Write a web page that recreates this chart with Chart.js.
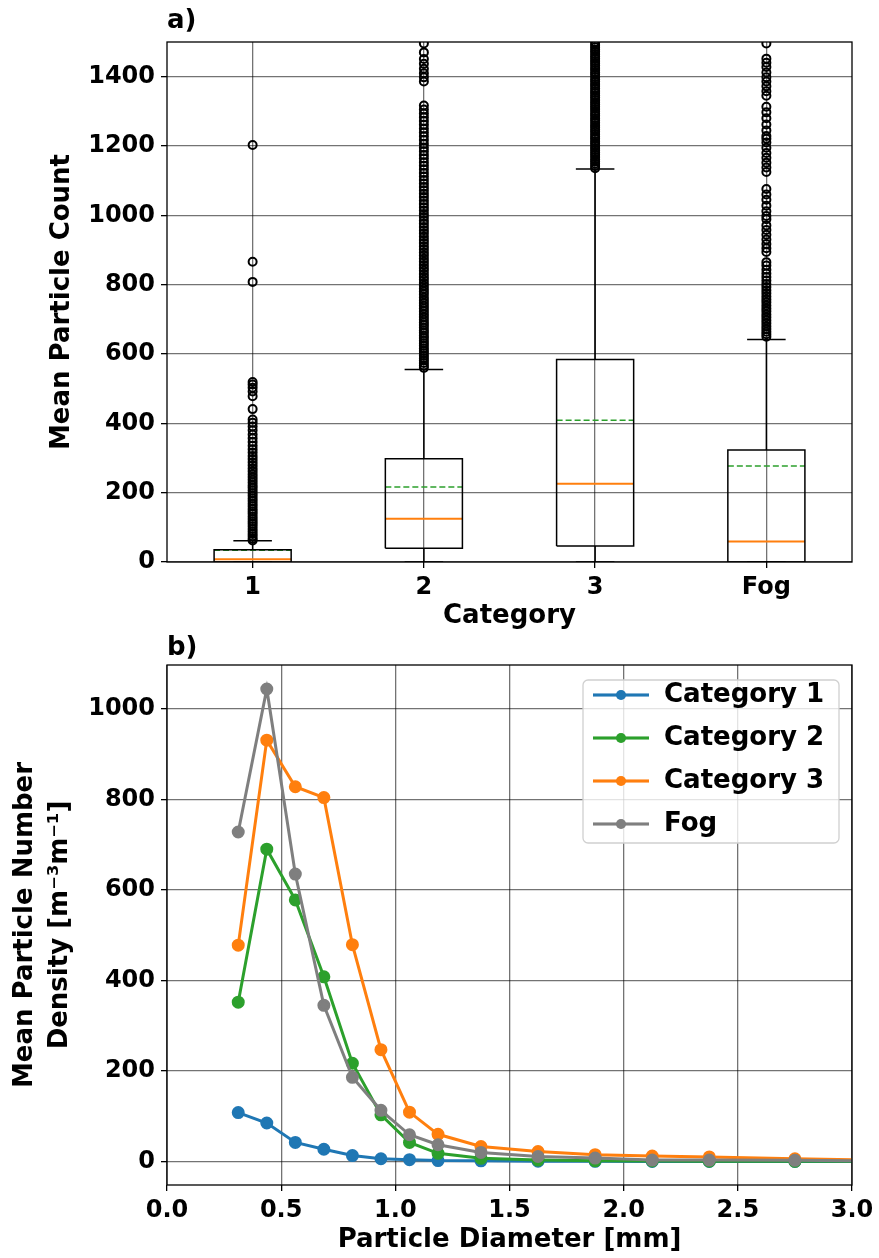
<!DOCTYPE html>
<html>
<head>
<meta charset="utf-8">
<script src="https://cdn.jsdelivr.net/npm/chart.js@4.4.1/dist/chart.umd.min.js"></script>
<style>
  body { margin: 0; background: #fff; }
  #top { width: 879px; height: 632px; position: relative; }
  #bottom { width: 879px; height: 626px; position: relative; }
</style>
</head>
<body>
<div id="top"><canvas id="boxChart"></canvas></div>
<div id="bottom"><canvas id="sizeChart"></canvas></div>
<script>
// a) box plot of mean particle count per category
const categories = ['1', '2', '3', 'Fog'];
const q1 = [0, 40, 46, 0];
const q3 = [35, 298, 584, 323];
const medians = [8, 125, 226, 59];
const means = [34, 216, 409, 277];
const whiskLow = [0, 0, 0, 0];
const whiskHigh = [61, 555, 1134, 642];
const countTicks = [0, 200, 400, 600, 800, 1000, 1200, 1400];

const fliers1 = [62, 67, 74, 81, 88, 95, 103, 110, 117, 124, 131, 139, 146, 153, 161, 168, 176, 183,
  191, 198, 206, 214, 221, 229, 237, 245, 253, 262, 270, 279, 288, 297, 306, 316, 325, 335, 346,
  357, 368, 380, 391, 402, 411, 441, 478, 492, 503, 512, 519, 808, 866, 1203];
const fliers2 = [560, 567, 574, 581, 588, 595, 602, 609, 616, 624, 631, 638, 646, 653, 661, 668, 676,
  684, 691, 699, 707, 715, 723, 731, 739, 747, 755, 763, 772, 780, 788, 797, 805, 814, 822, 831, 840,
  848, 857, 866, 875, 884, 893, 902, 911, 920, 929, 938, 948, 957, 966, 976, 985, 995, 1004, 1014,
  1023, 1033, 1043, 1053, 1062, 1072, 1082, 1092, 1102, 1112, 1122, 1133, 1143, 1153, 1164, 1174,
  1185, 1195, 1206, 1217, 1228, 1239, 1250, 1261, 1272, 1283, 1294, 1305, 1317, 1386, 1398, 1410,
  1423, 1437, 1451, 1470, 1496];
const fliers3 = [1136, 1142, 1149, 1155, 1161, 1168, 1175, 1181, 1188, 1194, 1201, 1208, 1214, 1221,
  1227, 1234, 1241, 1247, 1254, 1260, 1267, 1274, 1280, 1287, 1293, 1300, 1307, 1313, 1320, 1326,
  1333, 1340, 1346, 1353, 1359, 1366, 1373, 1379, 1386, 1392, 1399, 1406, 1412, 1419, 1425, 1432,
  1439, 1445, 1452, 1458, 1465, 1472, 1478, 1485, 1491, 1498];
const fliersFog = [650, 657, 664, 672, 680, 689, 697, 706, 714, 723, 731, 740, 749, 757, 766, 775, 784,
  793, 802, 812, 822, 832, 843, 855, 865, 894, 905, 917, 930, 944, 958, 971, 989, 998, 1012, 1028,
  1045, 1060, 1076, 1125, 1138, 1152, 1166, 1180, 1195, 1210, 1221, 1229, 1245, 1262, 1280, 1297,
  1313, 1345, 1358, 1372, 1386, 1398, 1412, 1428, 1440, 1452, 1496];
const fliers = [fliers1, fliers2, fliers3, fliersFog];

// b) mean particle number density vs diameter
const diameters = [0.312, 0.437, 0.562, 0.687, 0.812, 0.937, 1.062, 1.187, 1.375, 1.625, 1.875, 2.125, 2.375, 2.75, 3.25];
const cat1 = [108, 85, 42, 27, 13, 6, 4, 2, 1.5, 0.5, 0.3, 0.2, 0.1, 0.1, 0];
const cat2 = [352, 690, 578, 408, 217, 103, 42, 18, 7, 3, 1.5, 1, 0.6, 0.4, 0.2];
const cat3 = [478, 931, 828, 804, 479, 247, 109, 60, 33, 22, 15, 12, 10, 6, 2];
const fog = [728, 1044, 635, 345, 186, 113, 59, 37, 20, 11, 7.5, 3, 3, 2.5, 1];
const diamTicks = [0, 0.5, 1, 1.5, 2, 2.5, 3];
const diamTickLabels = ['0.0', '0.5', '1.0', '1.5', '2.0', '2.5', '3.0'];
const densTicks = [0, 200, 400, 600, 800, 1000];

Chart.defaults.font.family = 'DejaVu Sans';
Chart.defaults.font.weight = 'bold';
Chart.defaults.color = '#000';

const gridStyle = { color: 'rgba(0,0,0,0.55)', lineWidth: 1.3, tickColor: '#000', tickLength: 6 };

const frame = {
  id: 'frame',
  afterDraw(chart) {
    const { ctx, chartArea: a } = chart;
    ctx.save();
    ctx.strokeStyle = '#000';
    ctx.lineWidth = 1.3;
    ctx.strokeRect(a.left, a.top, a.right - a.left, a.bottom - a.top);
    ctx.restore();
  }
};

// build box plot pieces from the stats
const boxDatasets = [];
const halfW = 0.225, halfCap = 0.1125;
categories.forEach((c, i) => {
  const x = i + 1;
  boxDatasets.push({
    data: [{x: x - halfW, y: q1[i]}, {x: x + halfW, y: q1[i]}, {x: x + halfW, y: q3[i]},
           {x: x - halfW, y: q3[i]}, {x: x - halfW, y: q1[i]}],
    borderColor: '#000', borderWidth: 1.5
  });
  boxDatasets.push({ data: [{x: x, y: q3[i]}, {x: x, y: whiskHigh[i]}], borderColor: '#000', borderWidth: 1.5 });
  boxDatasets.push({ data: [{x: x - halfCap, y: whiskHigh[i]}, {x: x + halfCap, y: whiskHigh[i]}], borderColor: '#000', borderWidth: 1.5 });
  boxDatasets.push({ data: [{x: x, y: q1[i]}, {x: x, y: whiskLow[i]}], borderColor: '#000', borderWidth: 1.5 });
  boxDatasets.push({ data: [{x: x - halfCap, y: whiskLow[i]}, {x: x + halfCap, y: whiskLow[i]}], borderColor: '#000', borderWidth: 1.5 });
  boxDatasets.push({ data: [{x: x - halfW, y: medians[i]}, {x: x + halfW, y: medians[i]}], borderColor: '#ff7f0e', borderWidth: 2 });
  boxDatasets.push({ data: [{x: x - halfW, y: means[i]}, {x: x + halfW, y: means[i]}], borderColor: '#2ca02c', borderWidth: 1.5, borderDash: [6, 3] });
});
boxDatasets.forEach(d => { d.showLine = true; d.pointRadius = 0; d.fill = false; });

const flierPoints = [];
fliers.forEach((list, i) => list.forEach(v => flierPoints.push({x: i + 1, y: v})));
boxDatasets.push({
  data: flierPoints,
  showLine: false,
  pointStyle: 'circle',
  pointRadius: 4,
  pointBorderWidth: 2,
  pointBorderColor: '#000',
  pointBackgroundColor: 'rgba(0,0,0,0)'
});

new Chart(document.getElementById('boxChart'), {
  type: 'scatter',
  data: { datasets: boxDatasets },
  options: {
    responsive: true,
    maintainAspectRatio: false,
    animation: false,
    events: [],
    layout: { padding: { left: 0, right: 27, top: 0, bottom: 0 } },
    plugins: {
      legend: { display: false },
      tooltip: { enabled: false },
      title: {
        display: true, text: 'a)', align: 'start', fullSize: false,
        font: { size: 26, weight: 'bold' }, padding: { top: 6, bottom: 4.8 }
      }
    },
    scales: {
      x: {
        type: 'linear', min: 0.5, max: 4.5,
        afterBuildTicks: s => { s.ticks = categories.map((c, i) => ({ value: i + 1 })); },
        afterFit: s => { s.height = 70; },
        ticks: { callback: (v, i) => categories[i], font: { size: 24 }, padding: 5, maxRotation: 0 },
        grid: gridStyle,
        border: { display: false },
        title: { display: true, text: 'Category', font: { size: 26 }, padding: { top: 0, bottom: 0 } }
      },
      y: {
        min: 0, max: 1500,
        afterBuildTicks: s => { s.ticks = countTicks.map(v => ({ value: v })); },
        afterFit: s => { s.width = 167; },
        ticks: { callback: v => String(v), font: { size: 24 }, padding: 6 },
        grid: gridStyle,
        border: { display: false },
        title: { display: true, text: 'Mean Particle Count', font: { size: 26 }, padding: { top: 47, bottom: 0 } }
      }
    }
  },
  plugins: [frame]
});

// legend glyph: short line with a dot, like the plot
function legendIcon(color) {
  const c = document.createElement('canvas');
  c.width = 60; c.height = 14;
  const g = c.getContext('2d');
  g.strokeStyle = color; g.lineWidth = 3;
  g.beginPath(); g.moveTo(2, 7); g.lineTo(58, 7); g.stroke();
  g.fillStyle = color;
  g.beginPath(); g.arc(30, 7, 5, 0, Math.PI * 2); g.fill();
  return c;
}

const legendFrame = {
  id: 'legendFrame',
  afterLayout(chart) {
    const lg = chart.legend, a = chart.chartArea;
    lg.left = a.right - 278; lg.right = a.right;
    lg.top = a.top; lg.bottom = a.bottom;
  },
  afterDraw(chart) {
    const { ctx, chartArea: a } = chart;
    ctx.save();
    ctx.beginPath();
    ctx.roundRect(a.right - 269, a.top + 15, 256, 163, 5);
    ctx.fillStyle = 'rgba(255,255,255,0.8)';
    ctx.fill();
    ctx.strokeStyle = '#d0d0d0';
    ctx.lineWidth = 1.3;
    ctx.stroke();
    ctx.restore();
    chart.legend.draw();
  }
};

function series(label, values, color, order) {
  return {
    label: label,
    data: diameters.map((d, i) => ({ x: d, y: values[i] })),
    borderColor: color,
    backgroundColor: color,
    borderWidth: 3,
    pointRadius: 5,
    pointBackgroundColor: color,
    pointBorderColor: color,
    order: order
  };
}

new Chart(document.getElementById('sizeChart'), {
  type: 'line',
  data: {
    datasets: [
      series('Category 1', cat1, '#1f77b4', 4),
      series('Category 2', cat2, '#2ca02c', 3),
      series('Category 3', cat3, '#ff7f0e', 2),
      series('Fog', fog, '#7f7f7f', 1)
    ]
  },
  options: {
    responsive: true,
    maintainAspectRatio: false,
    animation: false,
    events: [],
    layout: { padding: { left: 0, right: 27, top: 0, bottom: 0 } },
    plugins: {
      tooltip: { enabled: false },
      title: {
        display: true, text: 'b)', align: 'start', fullSize: false,
        font: { size: 26, weight: 'bold' }, padding: { top: 1, bottom: 0.8 }
      },
      legend: {
        position: 'chartArea',
        align: 'start',
        labels: {
          usePointStyle: true,
          pointStyleWidth: 60,
          padding: 17,
          font: { size: 26, weight: 'bold' },
          color: '#000',
          generateLabels(chart) {
            const items = Chart.defaults.plugins.legend.labels.generateLabels(chart);
            items.sort((a, b) => a.datasetIndex - b.datasetIndex);
            items.forEach(it => { it.pointStyle = legendIcon(chart.data.datasets[it.datasetIndex].borderColor); });
            return items;
          }
        }
      }
    },
    scales: {
      x: {
        type: 'linear', min: 0, max: 3,
        afterBuildTicks: s => { s.ticks = diamTicks.map(v => ({ value: v })); },
        afterFit: s => { s.height = 73; },
        ticks: { callback: (v, i) => diamTickLabels[i], font: { size: 24 }, padding: 5, maxRotation: 0 },
        grid: gridStyle,
        border: { display: false },
        title: { display: true, text: 'Particle Diameter [mm]', font: { size: 26 }, padding: { top: 0, bottom: 2.4 } }
      },
      y: {
        min: -52, max: 1097,
        afterBuildTicks: s => { s.ticks = densTicks.map(v => ({ value: v })); },
        afterFit: s => { s.width = 167; },
        ticks: { callback: v => String(v), font: { size: 24 }, padding: 6 },
        grid: gridStyle,
        border: { display: false },
        title: {
          display: true, text: ['Mean Particle Number', 'Density [m⁻³m⁻¹]'],
          font: { size: 26, lineHeight: 1.35 }, padding: { top: 7.5, bottom: 0 }
        }
      }
    }
  },
  plugins: [frame, legendFrame]
});
</script>
</body>
</html>
